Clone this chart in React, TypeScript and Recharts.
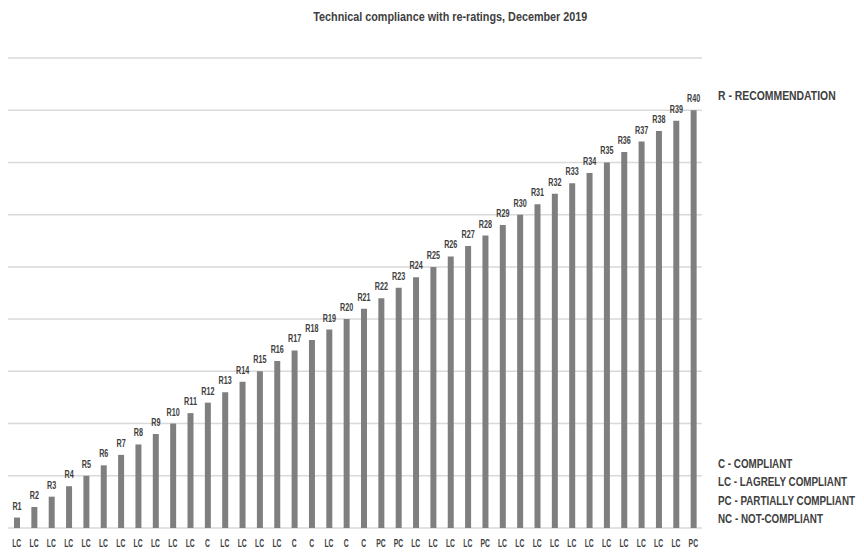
import { Bar, BarChart, CartesianGrid, LabelList, XAxis, YAxis } from 'recharts'

const recommendations = [
  'R1', 'R2', 'R3', 'R4', 'R5', 'R6', 'R7', 'R8', 'R9', 'R10',
  'R11', 'R12', 'R13', 'R14', 'R15', 'R16', 'R17', 'R18', 'R19', 'R20',
  'R21', 'R22', 'R23', 'R24', 'R25', 'R26', 'R27', 'R28', 'R29', 'R30',
  'R31', 'R32', 'R33', 'R34', 'R35', 'R36', 'R37', 'R38', 'R39', 'R40'
]

const heights = [
  1, 2, 3, 4, 5, 6, 7, 8, 9, 10,
  11, 12, 13, 14, 15, 16, 17, 18, 19, 20,
  21, 22, 23, 24, 25, 26, 27, 28, 29, 30,
  31, 32, 33, 34, 35, 36, 37, 38, 39, 40
]

const ratings = [
  'LC', 'LC', 'LC', 'LC', 'LC', 'LC', 'LC', 'LC', 'LC', 'LC',
  'LC', 'C', 'LC', 'LC', 'LC', 'LC', 'C', 'C', 'LC', 'C',
  'C', 'PC', 'PC', 'LC', 'LC', 'LC', 'LC', 'PC', 'LC', 'LC',
  'LC', 'LC', 'LC', 'LC', 'LC', 'LC', 'LC', 'LC', 'LC', 'PC'
]

const yTicks = [0, 5, 10, 15, 20, 25, 30, 35, 40, 45]

const legendLines = [
  'C - COMPLIANT',
  'LC - LAGRELY COMPLIANT',
  'PC - PARTIALLY COMPLIANT',
  'NC - NOT-COMPLIANT'
]

const font = '"Liberation Sans", Arial, sans-serif'
const textColor = '#404040'

// squeezed svg text, the original uses a condensed font
function NarrowText({ x, y, value, scale }: { x: number; y: number; value: string; scale: number }) {
  return (
    <text
      transform={`translate(${x}, ${y}) scale(${scale}, 1)`}
      textAnchor='middle'
      fontSize={10}
      fontWeight='bold'
      fontFamily={font}
      fill={textColor}
    >
      {value}
    </text>
  )
}

function RatingTick(props: any) {
  const { x, y, payload } = props
  return <NarrowText x={x} y={y + 11} value={payload.value} scale={0.68} />
}

function BarName(props: any) {
  const { x, y, width, value } = props
  return <NarrowText x={x + width / 2} y={y - 8} value={value} scale={0.72} />
}

const squeeze = (s: number) =>
  ({
    display: 'inline-block',
    transform: `scaleX(${s})`,
    transformOrigin: 'left center',
    whiteSpace: 'nowrap'
  }) as const

export default function App() {
  const data = recommendations.map((name, i) => ({
    name,
    value: heights[i],
    rating: ratings[i]
  }))

  return (
    <div style={{ position: 'absolute', left: 0, top: 0, width: 864, height: 552, background: '#fff', fontFamily: font, color: textColor }}>
      <div style={{ position: 'absolute', left: 0, width: 900, top: 10, textAlign: 'center', fontSize: 12, fontWeight: 'bold' }}>
        <span style={{ display: 'inline-block', transform: 'scaleX(0.9)', whiteSpace: 'nowrap' }}>
          Technical compliance with re-ratings, December 2019
        </span>
      </div>
      <BarChart
        width={864}
        height={552}
        data={data}
        margin={{ top: 58, right: 162, left: 8, bottom: 0 }}
      >
        <CartesianGrid vertical={false} stroke='#d9d9d9' strokeWidth={1.5} />
        <XAxis
          dataKey='rating'
          axisLine={false}
          tickLine={false}
          interval={0}
          height={24}
          tick={<RatingTick />}
        />
        <YAxis hide domain={[0, 45]} ticks={yTicks} />
        <Bar dataKey='value' fill='#7f7f7f' barSize={6} isAnimationActive={false}>
          <LabelList dataKey='name' content={<BarName />} />
        </Bar>
      </BarChart>
      <div style={{ position: 'absolute', left: 718, top: 88, fontSize: 13, fontWeight: 'bold' }}>
        <span style={squeeze(0.8)}>R - RECOMMENDATION</span>
      </div>
      <div style={{ position: 'absolute', left: 718, top: 455, fontSize: 12, fontWeight: 'bold', lineHeight: '18.3px' }}>
        {legendLines.map((t) => (
          <div key={t}>
            <span style={squeeze(0.82)}>{t}</span>
          </div>
        ))}
      </div>
    </div>
  )
}
